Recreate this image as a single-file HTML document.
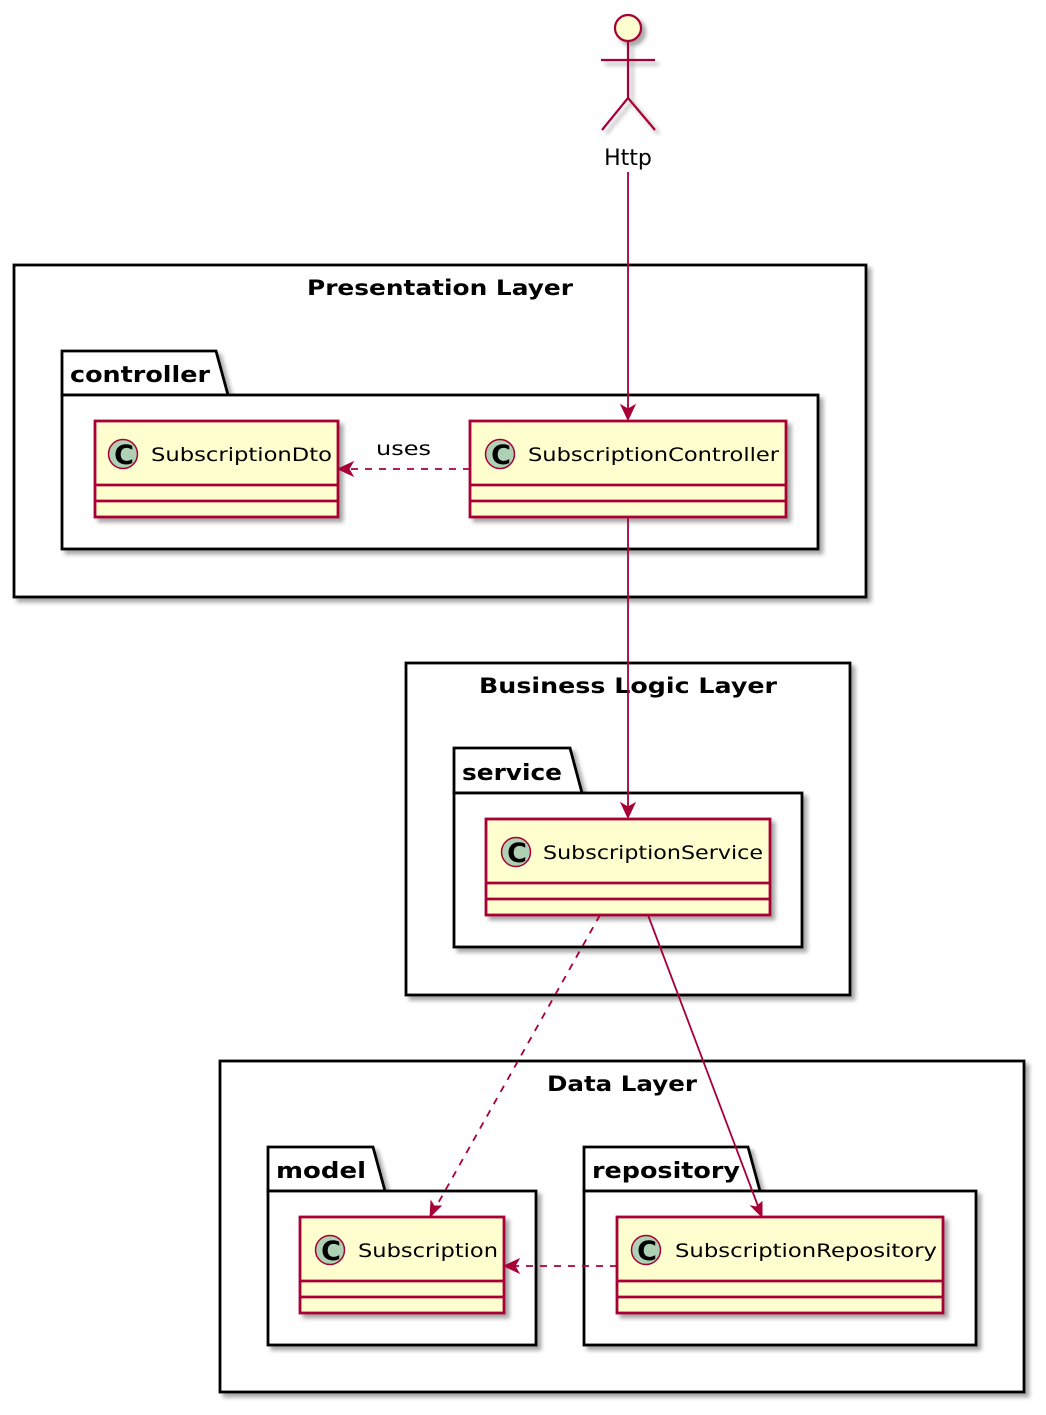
<!DOCTYPE html>
<html><head><meta charset="utf-8"><style>
html,body{margin:0;padding:0;background:#fff;}
svg{display:block;}
text{font-family:"DejaVu Sans","Liberation Sans",sans-serif;}
</style></head><body>
<svg width="1046" height="1415" viewBox="0 0 1046 1415" xmlns="http://www.w3.org/2000/svg">
<defs>
<filter id="sh" x="-10%" y="-10%" width="130%" height="130%">
<feGaussianBlur in="SourceAlpha" stdDeviation="2"/>
<feOffset dx="4" dy="4" result="o"/>
<feComponentTransfer><feFuncA type="linear" slope="0.35"/></feComponentTransfer>
<feMerge><feMergeNode/><feMergeNode in="SourceGraphic"/></feMerge>
</filter>
</defs>

<!-- Actor -->
<g filter="url(#sh)" stroke="#A80036" stroke-width="2.2" fill="none">
<circle cx="628" cy="28" r="13" fill="#FEFECE"/>
<line x1="628" y1="41" x2="628" y2="98"/>
<line x1="601" y1="60" x2="655" y2="60"/>
<line x1="628" y1="98" x2="602" y2="130"/>
<line x1="628" y1="98" x2="655" y2="130"/>
</g>
<text x="628" y="165" font-size="22" text-anchor="middle" fill="#000">Http</text>

<!-- Layers -->
<g filter="url(#sh)" fill="#fff" stroke="#000" stroke-width="2.8">
<rect x="14" y="265" width="852" height="332"/>
<rect x="406" y="663" width="444" height="332"/>
<rect x="220" y="1061" width="804" height="331"/>
</g>
<g font-weight="bold" font-size="21" text-anchor="middle" fill="#000">
<text x="440" y="295" textLength="266" lengthAdjust="spacingAndGlyphs">Presentation Layer</text>
<text x="628" y="693" textLength="298" lengthAdjust="spacingAndGlyphs">Business Logic Layer</text>
<text x="622" y="1091" textLength="150" lengthAdjust="spacingAndGlyphs">Data Layer</text>
</g>

<!-- Packages -->
<g filter="url(#sh)" fill="#fff" stroke="#000" stroke-width="2.8">
<path d="M62,395 L62,351 L216,351 L228,395 Z"/>
<rect x="62" y="395" width="756" height="154"/>
<path d="M454,793 L454,748 L570,748 L582,793 Z"/>
<rect x="454" y="793" width="348" height="154"/>
<path d="M268,1191 L268,1147 L373,1147 L385,1191 Z"/>
<rect x="268" y="1191" width="268" height="154"/>
<path d="M584,1191 L584,1147 L748,1147 L760,1191 Z"/>
<rect x="584" y="1191" width="392" height="154"/>
</g>
<g font-weight="bold" font-size="22" fill="#000">
<text x="70" y="382" textLength="140" lengthAdjust="spacingAndGlyphs">controller</text>
<text x="462" y="780" textLength="100" lengthAdjust="spacingAndGlyphs">service</text>
<text x="276" y="1178" textLength="90" lengthAdjust="spacingAndGlyphs">model</text>
<text x="592" y="1178" textLength="148" lengthAdjust="spacingAndGlyphs">repository</text>
</g>

<!-- Classes -->
<g filter="url(#sh)" fill="#FEFECE" stroke="#A80036" stroke-width="2.8">
<rect x="95" y="421" width="243" height="96"/>
<rect x="470" y="421" width="316" height="96"/>
<rect x="486" y="819" width="284" height="96"/>
<rect x="300" y="1217" width="204" height="96"/>
<rect x="617" y="1217" width="326" height="96"/>
</g>
<g stroke="#A80036" stroke-width="2.8">
<line x1="95" y1="485" x2="338" y2="485"/><line x1="95" y1="501" x2="338" y2="501"/>
<line x1="470" y1="485" x2="786" y2="485"/><line x1="470" y1="501" x2="786" y2="501"/>
<line x1="486" y1="883" x2="770" y2="883"/><line x1="486" y1="899" x2="770" y2="899"/>
<line x1="300" y1="1281" x2="504" y2="1281"/><line x1="300" y1="1297" x2="504" y2="1297"/>
<line x1="617" y1="1281" x2="943" y2="1281"/><line x1="617" y1="1297" x2="943" y2="1297"/>
</g>
<g fill="#ADD1B2" stroke="#A80036" stroke-width="1.5">
<circle cx="123" cy="454" r="14.5"/>
<circle cx="500" cy="454" r="14.5"/>
<circle cx="516" cy="852" r="14.5"/>
<circle cx="330" cy="1250" r="14.5"/>
<circle cx="646" cy="1250" r="14.5"/>
</g>
<g font-weight="bold" font-size="27" text-anchor="middle" fill="#000" style="font-family:'Liberation Sans',sans-serif">
<text x="124" y="464">C</text>
<text x="501" y="464">C</text>
<text x="517" y="862">C</text>
<text x="331" y="1260">C</text>
<text x="647" y="1260">C</text>
</g>
<g font-size="19" fill="#000">
<text x="151" y="461" textLength="181" lengthAdjust="spacingAndGlyphs">SubscriptionDto</text>
<text x="528" y="461" textLength="251" lengthAdjust="spacingAndGlyphs">SubscriptionController</text>
<text x="543" y="859" textLength="220" lengthAdjust="spacingAndGlyphs">SubscriptionService</text>
<text x="358" y="1257" textLength="140" lengthAdjust="spacingAndGlyphs">Subscription</text>
<text x="675" y="1257" textLength="262" lengthAdjust="spacingAndGlyphs">SubscriptionRepository</text>
</g>

<!-- Connectors -->
<g stroke="#A80036" stroke-width="1.8" fill="none">
<line x1="628" y1="172" x2="628" y2="418"/>
<line x1="628" y1="517" x2="628" y2="816"/>
<line x1="470" y1="469" x2="341" y2="469" stroke-dasharray="7,7"/>
<line x1="617" y1="1266" x2="507" y2="1266" stroke-dasharray="7,7"/>
<line x1="600" y1="915" x2="432" y2="1214" stroke-dasharray="7,7"/>
<line x1="648" y1="915" x2="761" y2="1214"/>
</g>
<g fill="#A80036" stroke="#A80036" stroke-width="1">
<path d="M628,420 L621,405 L628,409 L635,405 Z"/>
<path d="M628,818 L621,803 L628,807 L635,803 Z"/>
<path d="M338,469 L353,462 L349,469 L353,476 Z"/>
<path d="M504,1266 L519,1259 L515,1266 L519,1273 Z"/>
<path d="M430,1217 L431,1201 L434,1206 L441,1206 Z"/>
<path d="M762,1217 L751,1206 L756,1207 L762,1202 Z"/>
</g>
<text x="376" y="455" font-size="19" fill="#000" textLength="55" lengthAdjust="spacingAndGlyphs">uses</text>
</svg>
</body></html>
